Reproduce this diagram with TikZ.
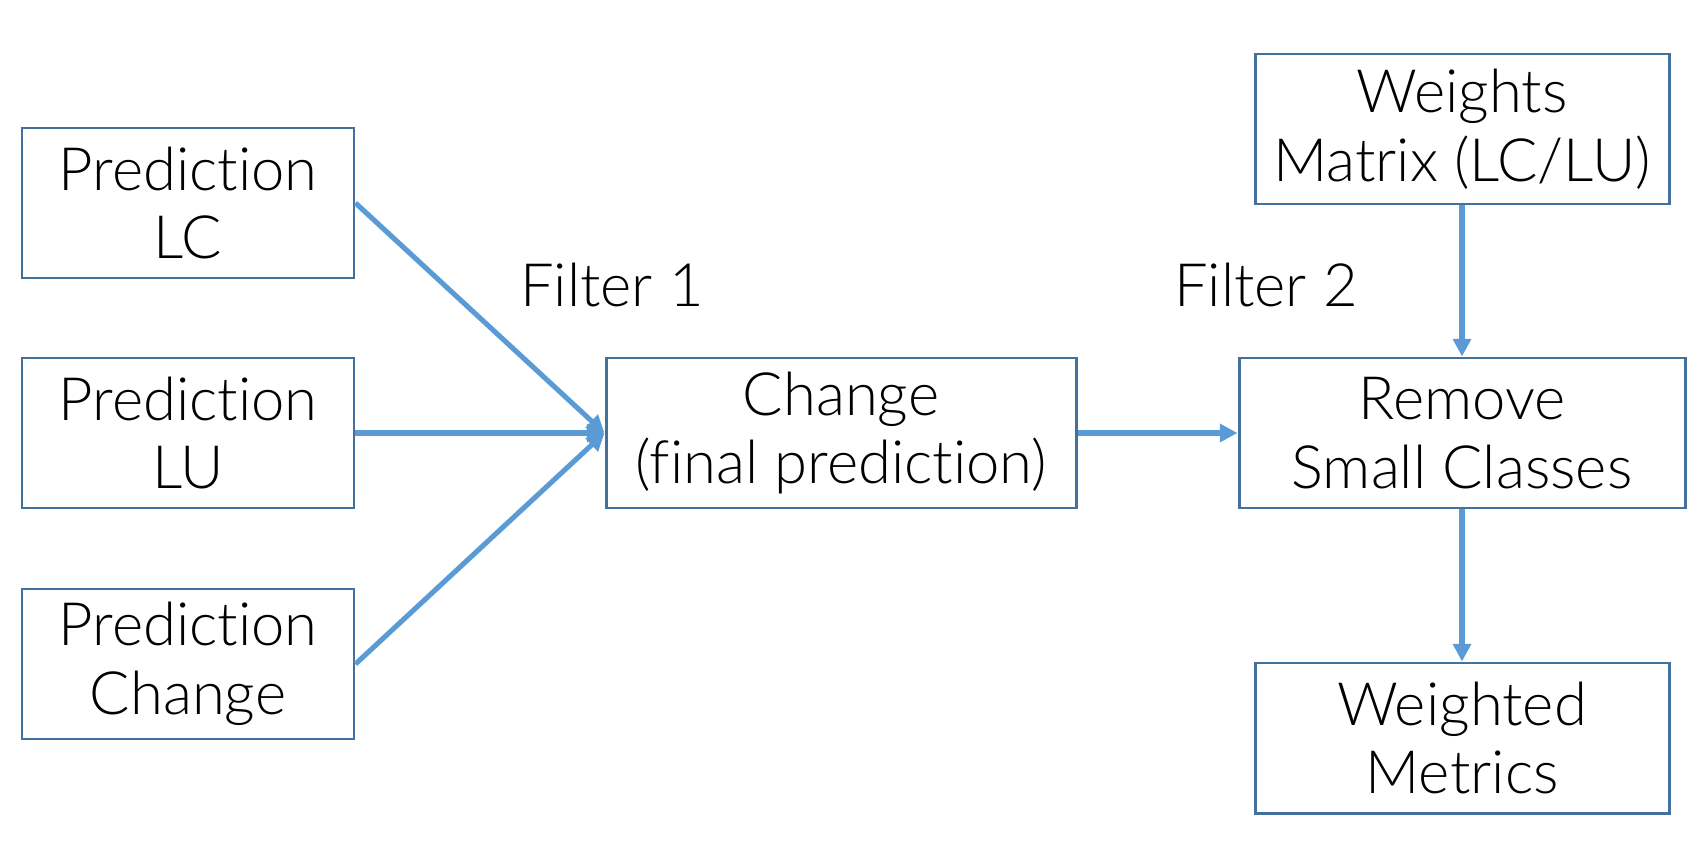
\documentclass[tikz,border=0pt]{standalone}
\usepackage{fontspec}
\setmainfont{Lato}[UprightFont={* Light}, Ligatures=NoCommon]
\usetikzlibrary{arrows.meta}
\definecolor{boxblue}{HTML}{41719C}
\definecolor{arrowblue}{HTML}{5B9BD5}
\tikzset{
	stagebox/.style={draw=boxblue, line width=1.7pt, align=center, inner sep=0pt,
		minimum height=3cm, font=\fontsize{34}{39}\selectfont},
	flow/.style={draw=arrowblue, line width=2.9pt, -{Triangle[length=10pt, width=10pt]}},
	filterlabel/.style={font=\fontsize{34}{39}\selectfont}
}

\begin{document}
\begin{tikzpicture}
			%%%%% START %%%%%
			
			\useasboundingbox (0, 0) rectangle (34.14, 17.16);
			
			\node[stagebox, minimum width=6.64cm] (predlc) at (3.76, 13.1) {Prediction\\LC};
			\node[stagebox, minimum width=6.64cm] (predlu) at (3.76, 8.5) {Prediction\\LU};
			\node[stagebox, minimum width=6.64cm] (predchange) at (3.76, 3.88) {Prediction\\Change};
			
			\node[stagebox, minimum width=9.4cm] (change) at (16.82, 8.5) {Change\\(final prediction)};
			
			\node[stagebox, minimum width=8.28cm] (weights) at (29.24, 14.58) {Weights\\Matrix (LC/LU)};
			\node[stagebox, minimum width=8.92cm] (remove) at (29.24, 8.5) {Remove\\Small Classes};
			\node[stagebox, minimum width=8.28cm] (metrics) at (29.24, 2.4) {Weighted\\Metrics};
			
			\node[filterlabel] (filterone) at (12.24, 11.45) {Filter 1};
			\node[filterlabel] (filtertwo) at (25.32, 11.45) {Filter 2};
			
			\draw[flow] (predlc.east) -- (change.west);
			\draw[flow] (predlu.east) -- (change.west);
			\draw[flow] (predchange.east) -- (change.west);
			\draw[flow] (change.east) -- (remove.west);
			\draw[flow] (weights.south) -- (remove.north);
			\draw[flow] (remove.south) -- (metrics.north);
			
			%%%%% END %%%%%
\end{tikzpicture}
\end{document}
